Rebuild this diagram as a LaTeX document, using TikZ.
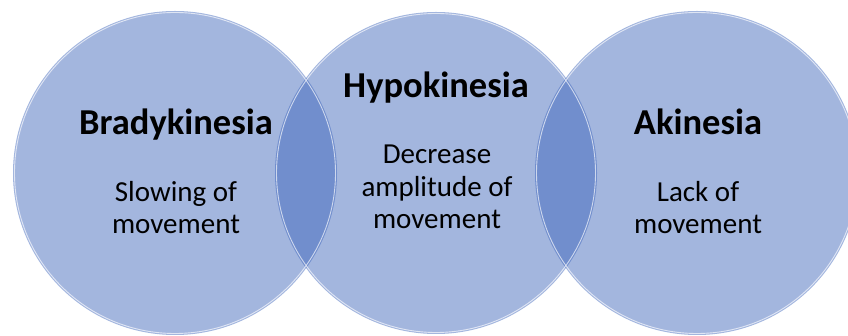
\documentclass[tikz,border=0pt]{standalone}
\usepackage{fontspec}
\setmainfont{Carlito}
\begin{document}
\begin{tikzpicture}[x=1pt,y=1pt,
  setcircle/.style={fill=setblue,fill opacity=0.46},
  rim/.style={draw=white,draw opacity=0.65,line width=0.9pt},
  title/.style={font=\fontsize{36.5}{40}\selectfont\bfseries,text=black,inner sep=0pt,anchor=base},
  body/.style={font=\fontsize{29}{32.5}\selectfont,text=black,inner sep=0pt,anchor=base,align=center}]
\definecolor{setblue}{RGB}{54,95,184}
\useasboundingbox (0,0) rectangle (848,336);
% three overlapping translucent sets
\coordinate (cl) at (175,163);
\coordinate (cm) at (436,163);
\coordinate (cr) at (697,163);
\fill[setcircle] (cl) circle (162);
\fill[setcircle] (cm) circle (161);
\fill[setcircle] (cr) circle (162);
\draw[rim] (cl) circle (160.5);
\draw[rim] (cm) circle (159.5);
\draw[rim] (cr) circle (160.5);
% labels (body anchors sit on the last line's baseline)
\node[title] (brady) at (176,201) {Bradykinesia};
\node[body] (bradytxt) at (176,102) {Slowing of\\movement};
\node[title] (hypo) at (436,238) {Hypokinesia};
\node[body] (hypotxt) at (437,107) {Decrease\\amplitude of\\movement};
\node[title] (aki) at (698,201) {Akinesia};
\node[body] (akitxt) at (698,102) {Lack of\\movement};
\end{tikzpicture}
\end{document}
